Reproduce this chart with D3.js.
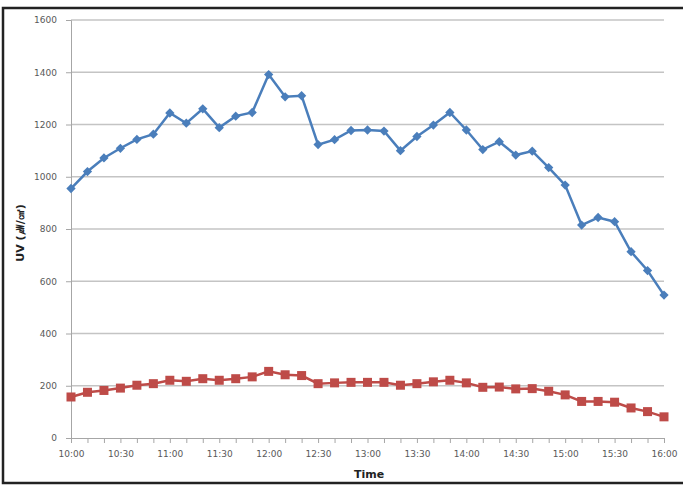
<!DOCTYPE html>
<html>
<head>
<meta charset="utf-8">
<script src="https://cdn.jsdelivr.net/npm/d3@7"></script>
<style>
  body { margin: 0; background: #fff; }
  svg text { font-family: "DejaVu Sans", "Open Sans", sans-serif; }
</style>
</head>
<body>
<div id="chart"></div>
<script>
// readings every 10 minutes, 10:00 - 16:00
const times = ["10:00","10:10","10:20","10:30","10:40","10:50","11:00","11:10","11:20","11:30","11:40","11:50",
  "12:00","12:10","12:20","12:30","12:40","12:50","13:00","13:10","13:20","13:30","13:40","13:50",
  "14:00","14:10","14:20","14:30","14:40","14:50","15:00","15:10","15:20","15:30","15:40","15:50","16:00"];
const blueValues = [955,1020,1072,1109,1143,1163,1244,1205,1260,1188,1232,1246,
  1391,1306,1310,1123,1142,1177,1179,1175,1100,1154,1198,1246,
  1179,1104,1134,1083,1098,1035,968,815,844,828,713,641,547];
const redValues = [157,175,182,191,202,208,221,217,227,221,227,234,
  255,242,239,208,211,213,213,213,202,208,215,221,
  211,194,195,188,189,179,165,140,140,137,115,101,81];
const xLabels = ["10:00","10:30","11:00","11:30","12:00","12:30","13:00","13:30","14:00","14:30","15:00","15:30","16:00"];
const yTicks = [0,200,400,600,800,1000,1200,1400,1600];

const W = 683, H = 486;
const plotLeft = 71, plotRight = 664, plotTop = 20, plotBottom = 438;

const svg = d3.select("#chart").append("svg")
  .attr("width", W)
  .attr("height", H);

// outer frame (right edge runs off the picture)
svg.append("rect")
  .attr("x", 3).attr("y", 8)
  .attr("width", W + 10).attr("height", 475)
  .attr("fill", "none")
  .attr("stroke", "#222")
  .attr("stroke-width", 2.5);

const x = d3.scalePoint(times, [plotLeft, plotRight]);
const y = d3.scaleLinear([0, 1600], [plotBottom, plotTop]);

// grid lines
svg.append("g")
  .selectAll("line")
  .data(yTicks.slice(1))
  .join("line")
  .attr("x1", plotLeft).attr("x2", plotRight)
  .attr("y1", d => y(d)).attr("y2", d => y(d))
  .attr("stroke", "#c4c4c4")
  .attr("stroke-width", 1.3);

// y axis
const yAxis = svg.append("g")
  .attr("transform", `translate(${plotLeft},0)`)
  .call(d3.axisLeft(y).tickValues(yTicks).tickFormat(d3.format("d")).tickSize(5).tickPadding(9));
yAxis.select(".domain").attr("stroke", "#a6a6a6");
yAxis.selectAll(".tick line").attr("stroke", "#a6a6a6");
yAxis.selectAll(".tick text")
  .attr("fill", "#595959")
  .style("font-size", "9px");

// x axis
const xAxis = svg.append("g")
  .attr("transform", `translate(0,${plotBottom})`)
  .call(d3.axisBottom(x).tickSize(5).tickPadding(8)
    .tickFormat(d => xLabels.includes(d) ? d : ""));
xAxis.select(".domain").attr("stroke", "#a6a6a6");
xAxis.selectAll(".tick line").attr("stroke", "#a6a6a6");
xAxis.selectAll(".tick text")
  .attr("fill", "#595959")
  .style("font-size", "9px");

// axis titles
svg.append("text")
  .attr("x", 369)
  .attr("y", 478)
  .attr("text-anchor", "middle")
  .style("font-size", "11px")
  .style("font-weight", "bold")
  .attr("fill", "#222")
  .text("Time");

svg.append("text")
  .attr("transform", "translate(24,233) rotate(-90)")
  .attr("text-anchor", "middle")
  .style("font-size", "11px")
  .style("font-weight", "bold")
  .attr("fill", "#222")
  .text("UV (㎼/㎠)");

const line = d3.line()
  .x((d, i) => x(times[i]))
  .y(d => y(d));

// blue series
svg.append("path")
  .datum(blueValues)
  .attr("fill", "none")
  .attr("stroke", "#4a7ebb")
  .attr("stroke-width", 2.5)
  .attr("d", line);
svg.append("g")
  .selectAll("path")
  .data(blueValues)
  .join("path")
  .attr("transform", (d, i) => `translate(${x(times[i])},${y(d)})`)
  .attr("d", d3.symbol(d3.symbolDiamond2, 55))
  .attr("fill", "#4a7ebb");

// red series
svg.append("path")
  .datum(redValues)
  .attr("fill", "none")
  .attr("stroke", "#be4b48")
  .attr("stroke-width", 2.5)
  .attr("d", line);
svg.append("g")
  .selectAll("rect")
  .data(redValues)
  .join("rect")
  .attr("x", (d, i) => x(times[i]) - 4.5)
  .attr("y", d => y(d) - 4.5)
  .attr("width", 9).attr("height", 9)
  .attr("fill", "#be4b48");
</script>
</body>
</html>
